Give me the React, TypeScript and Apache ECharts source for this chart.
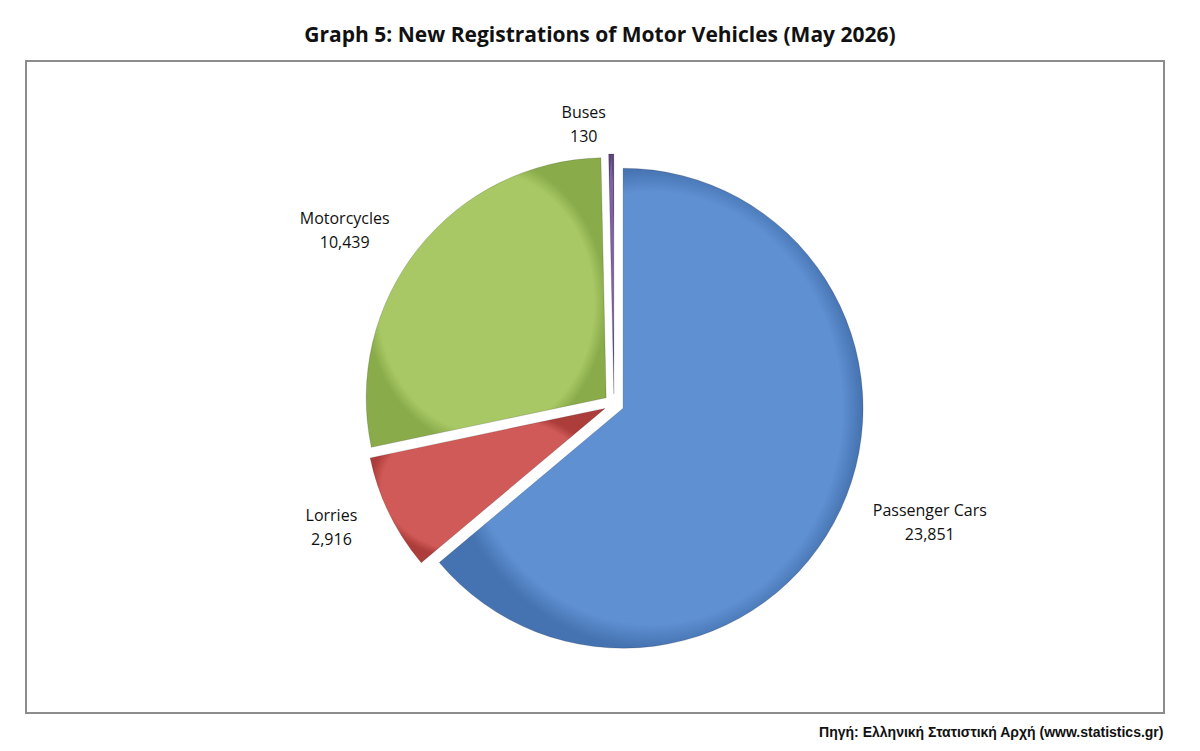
import React, { useEffect, useRef } from 'react';
import * as echarts from 'echarts';

const categories = ['Passenger Cars', 'Lorries', 'Motorcycles', 'Buses'];
const values = [23851, 2916, 10439, 130];
const colors = [
  ['#5f90d2', '#4572b0'],
  ['#d05a57', '#ac3d3a'],
  ['#a8c865', '#8aab4a'],
  ['#7e62a2', '#5a4379'],
];

const App: React.FC = () => {
  const chartRef = useRef<HTMLDivElement>(null);

  useEffect(() => {
    document.body.style.margin = '0';
    if (!chartRef.current) return;
    const chart = echarts.init(chartRef.current, undefined, { renderer: 'svg' });

    const option: echarts.EChartsOption = {
      animation: false,
      backgroundColor: '#fff',
      title: {
        text: 'Graph 5: New Registrations of Motor Vehicles (May 2026)',
        left: 'center',
        top: 18,
        textStyle: { fontFamily: 'Open Sans', fontSize: 21, fontWeight: 'bold', color: '#111' },
      },
      graphic: [
        {
          type: 'rect',
          shape: { x: 26, y: 61, width: 1138, height: 652 },
          style: { fill: 'none', stroke: '#8c8c8c', lineWidth: 2 },
        },
        {
          type: 'text',
          right: 36,
          top: 725,
          style: {
            text: 'Πηγή: Ελληνική Στατιστική Αρχή (www.statistics.gr)',
            font: 'bold 14px "Liberation Sans"',
            fill: '#111',
          },
        },
      ],
      series: [
        {
          type: 'pie',
          center: [614, 404],
          radius: 240,
          startAngle: 90,
          clockwise: true,
          selectedMode: 'multiple',
          selectedOffset: 10,
          label: {
            show: true,
            position: 'outside',
            distance: 12,
            formatter: (p: any) => `{a|${p.name}}\n{a|${p.value.toLocaleString('en-US')}}`,
            rich: {
              a: {
                fontFamily: 'Open Sans',
                fontSize: 16,
                lineHeight: 24,
                color: '#111',
                align: 'center',
              },
            },
          },
          labelLine: { show: false, length: 30, length2: 0 },
          itemStyle: { borderColor: 'rgba(0,0,0,0.15)', borderWidth: 1 },
          data: categories.map((name, i) => ({
            name,
            value: values[i],
            selected: true,
            itemStyle: {
              color: {
                type: 'radial',
                x: 0.5,
                y: 0.5,
                r: 0.5,
                colorStops: [
                  { offset: 0, color: colors[i][0] },
                  { offset: 0.9, color: colors[i][0] },
                  { offset: 1, color: colors[i][1] },
                ],
              },
            },
          })),
        },
      ],
    };

    chart.setOption(option);
    return () => chart.dispose();
  }, []);

  return <div ref={chartRef} style={{ width: 1200, height: 751 }} />;
};

export default App;
